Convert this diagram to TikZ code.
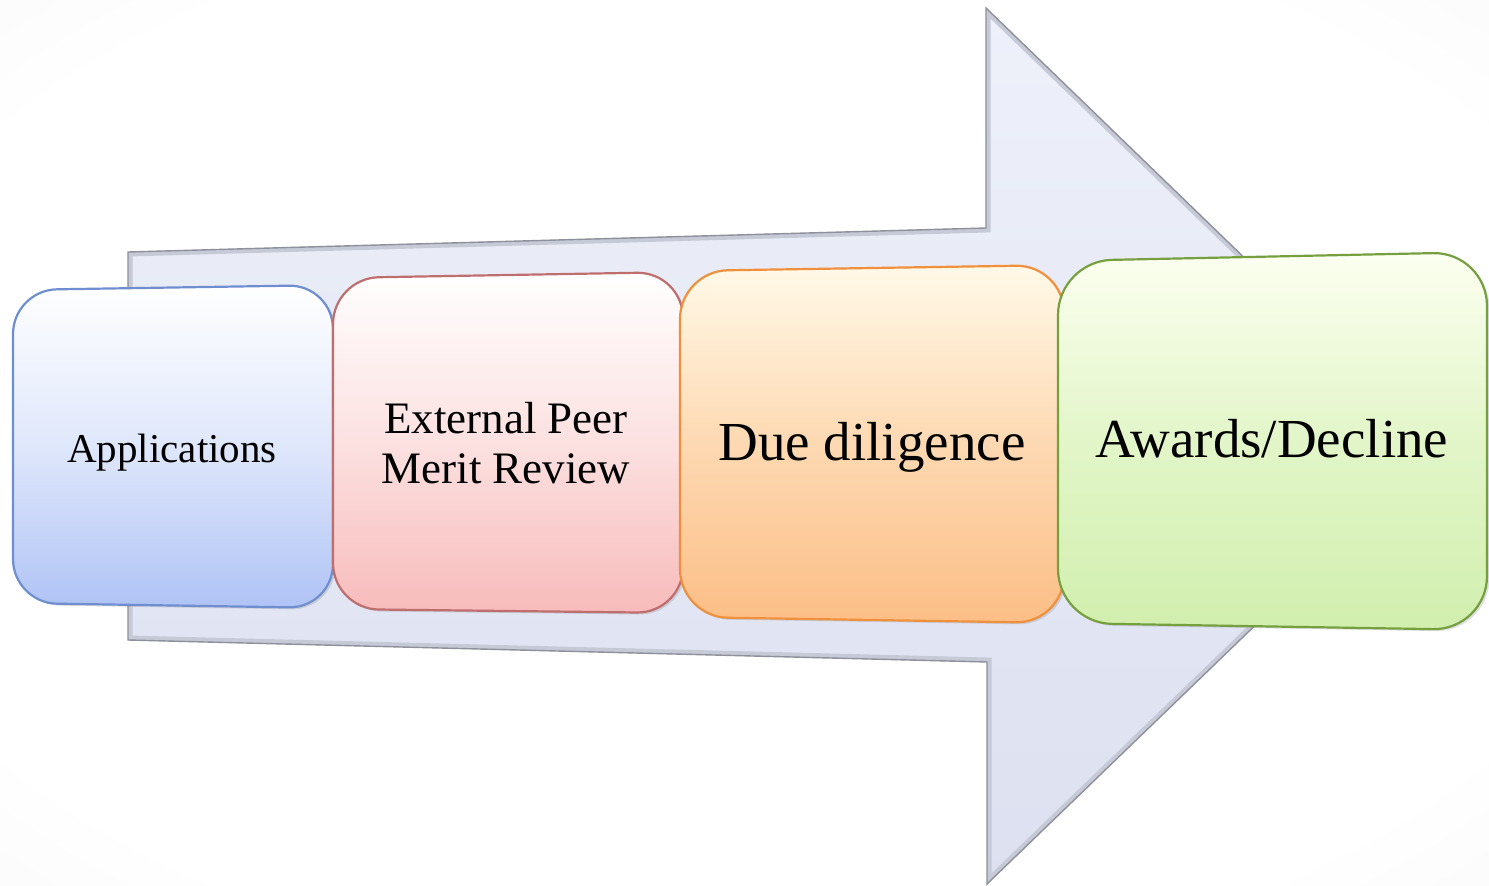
\documentclass[tikz,border=0pt]{standalone}
\usepackage{fontspec}
\setmainfont{Liberation Serif}
\usetikzlibrary{shadows}
\definecolor{arrowtop}{HTML}{EEF1FA}
\definecolor{arrowbot}{HTML}{DCE0F0}
\definecolor{arrowline}{HTML}{8E909B}
\definecolor{arrowbevel}{HTML}{C6C9D6}
\definecolor{bluebot}{HTML}{AFC3F5}
\definecolor{blueline}{HTML}{6F8ED0}
\definecolor{pinkbot}{HTML}{F8BBBB}
\definecolor{pinkline}{HTML}{BF6E6E}
\definecolor{orangetop}{HTML}{FFF9E8}
\definecolor{orangebot}{HTML}{FCBE86}
\definecolor{orangeline}{HTML}{F0903C}
\definecolor{greentop}{HTML}{FCFFF0}
\definecolor{greenbot}{HTML}{D1EFAE}
\definecolor{greenline}{HTML}{76A03F}
\pgfdeclareradialshading{vignette}{\pgfpoint{0bp}{0bp}}{color(0bp)=(white); color(30bp)=(white); color(50bp)=(black!5); color(72bp)=(black!10)}
\tikzset{
  boxshape/.style={line width=2.2pt, line join=round,
    drop shadow={opacity=0.25, shadow xshift=2.5pt, shadow yshift=-2pt}},
  lbl/.style={anchor=base, inner sep=0pt, align=center, text=black},
}
\def\arrowpath{(128,252) -- (986,228) -- (986,8) -- (1440,447) -- (987,884) -- (987,662) -- (128,640) -- cycle}
\begin{document}
\begin{tikzpicture}[x=1pt,y=-1pt]
\useasboundingbox (0,0) rectangle (1489,886);
\shade[shading=vignette] (0,0) rectangle (1489,886);
% big arrow
\path[top color=arrowtop, bottom color=arrowbot] \arrowpath;
\begin{scope}
  \clip \arrowpath;
  \draw[arrowbevel, line width=9pt, line join=miter] \arrowpath;
\end{scope}
\draw[arrowline, line width=1.4pt, line join=miter] \arrowpath;
% boxes
\path[boxshape, draw=blueline, top color=white, bottom color=bluebot, middle color=bluebot!40, rounded corners=44pt]
  (13,290) -- (333,285) -- (333,608) -- (13,603) -- cycle;
\path[boxshape, draw=pinkline, top color=white, bottom color=pinkbot, middle color=pinkbot!45, rounded corners=46pt]
  (333,278) -- (683,272) -- (683,613) -- (333,609) -- cycle;
\path[boxshape, draw=orangeline, top color=orangetop, bottom color=orangebot, middle color=orangebot!55!orangetop, rounded corners=48pt]
  (680,271) -- (1064,265) -- (1064,623) -- (680,617) -- cycle;
\path[boxshape, draw=greenline, top color=greentop, bottom color=greenbot, middle color=greenbot!60!greentop, rounded corners=54pt]
  (1058,261) -- (1487,252) -- (1487,630) -- (1058,623) -- cycle;
% labels
\node[lbl, font=\fontsize{41}{48}\selectfont] (app) at (172,462) {Applications};
\node[lbl, font=\fontsize{45}{50}\selectfont] (epmr) at (506,483) {External Peer\\Merit Review};
\node[lbl, font=\fontsize{55}{60}\selectfont] (dd) at (872,460) {Due diligence};
\node[lbl, font=\fontsize{55}{60}\selectfont] (ad) at (1272,457) {Awards/Decline};
\end{tikzpicture}
\end{document}
